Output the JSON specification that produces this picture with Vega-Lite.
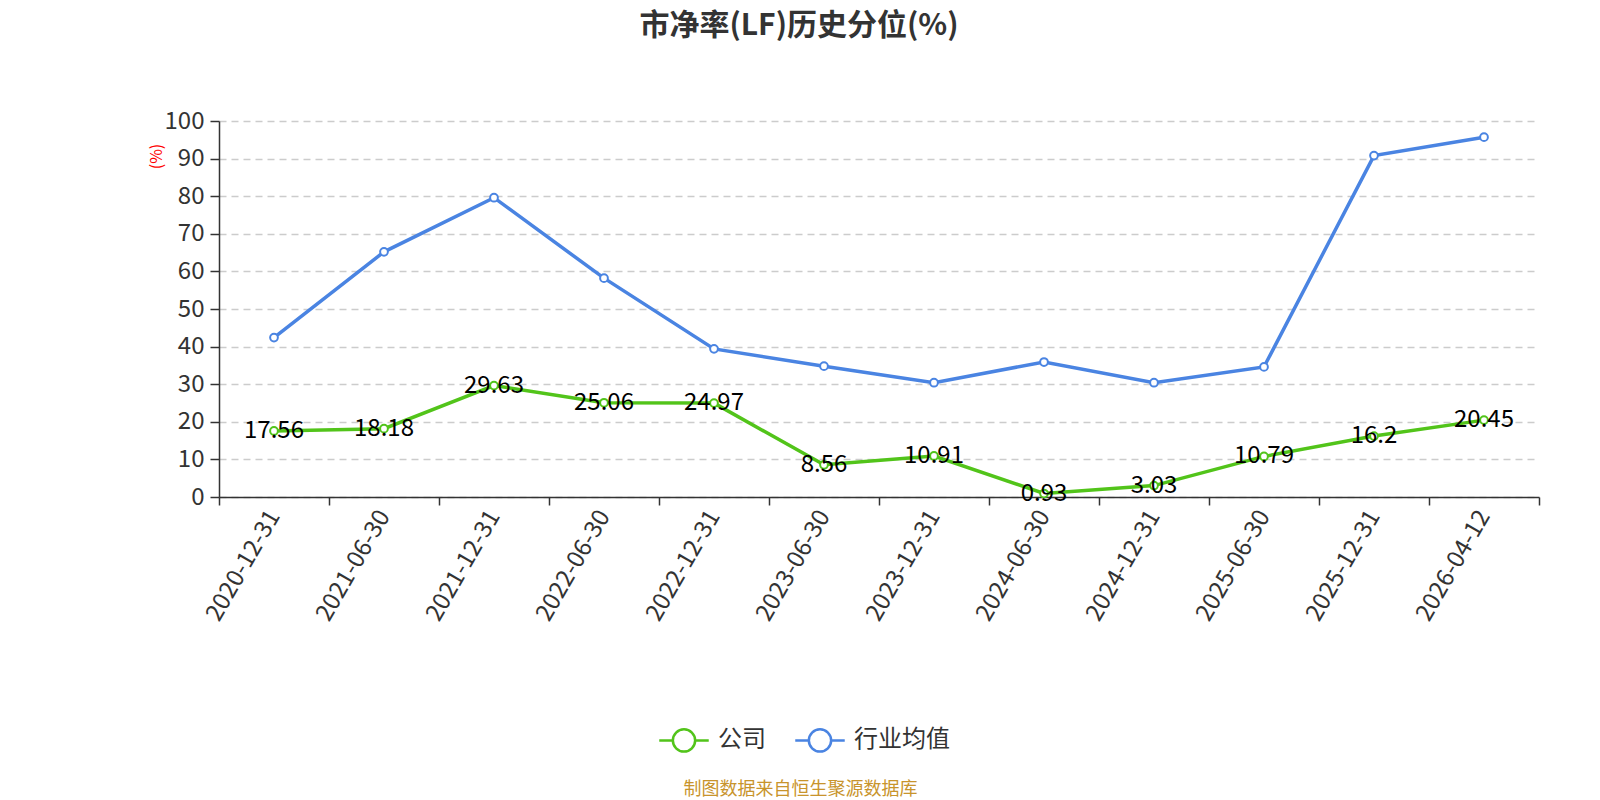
{
  "$schema": "https://vega.github.io/schema/vega-lite/v6.json",
  "width": 1320,
  "height": 376,
  "autosize": {"type": "none"},
  "padding": {"left": 219, "top": 121, "right": 61, "bottom": 303},
  "background": "white",
  "config": {
    "font": "Noto Sans CJK SC",
    "view": {"stroke": null}
  },
  "title": {
    "text": "市净率(LF)历史分位(%)",
    "fontSize": 30,
    "fontWeight": "bold",
    "color": "#333333",
    "anchor": "middle",
    "frame": "group",
    "dx": -80,
    "offset": 68
  },
  "data": {
    "values": [
      {"date": "2020-12-31", "series": "公司", "value": 17.56},
      {"date": "2021-06-30", "series": "公司", "value": 18.18},
      {"date": "2021-12-31", "series": "公司", "value": 29.63},
      {"date": "2022-06-30", "series": "公司", "value": 25.06},
      {"date": "2022-12-31", "series": "公司", "value": 24.97},
      {"date": "2023-06-30", "series": "公司", "value": 8.56},
      {"date": "2023-12-31", "series": "公司", "value": 10.91},
      {"date": "2024-06-30", "series": "公司", "value": 0.93},
      {"date": "2024-12-31", "series": "公司", "value": 3.03},
      {"date": "2025-06-30", "series": "公司", "value": 10.79},
      {"date": "2025-12-31", "series": "公司", "value": 16.2},
      {"date": "2026-04-12", "series": "公司", "value": 20.45},
      {"date": "2020-12-31", "series": "行业均值", "value": 42.4},
      {"date": "2021-06-30", "series": "行业均值", "value": 65.2},
      {"date": "2021-12-31", "series": "行业均值", "value": 79.6},
      {"date": "2022-06-30", "series": "行业均值", "value": 58.2},
      {"date": "2022-12-31", "series": "行业均值", "value": 39.4},
      {"date": "2023-06-30", "series": "行业均值", "value": 34.8},
      {"date": "2023-12-31", "series": "行业均值", "value": 30.4},
      {"date": "2024-06-30", "series": "行业均值", "value": 35.9},
      {"date": "2024-12-31", "series": "行业均值", "value": 30.4},
      {"date": "2025-06-30", "series": "行业均值", "value": 34.6},
      {"date": "2025-12-31", "series": "行业均值", "value": 90.8},
      {"date": "2026-04-12", "series": "行业均值", "value": 95.7}
    ]
  },
  "encoding": {
    "x": {
      "field": "date",
      "type": "ordinal",
      "sort": null,
      "scale": {"paddingInner": 0, "paddingOuter": 0},
      "axis": {
        "title": "制图数据来自恒生聚源数据库",
        "titleFont": "Noto Sans CJK SC",
        "titleFontSize": 18,
        "titleFontWeight": "normal",
        "titleColor": "#c8942c",
        "titleX": 581,
        "titleY": 292,
        "titleBaseline": "middle",
        "titleAnchor": null,
        "labelAngle": -60,
        "labelFontSize": 24,
        "labelColor": "#333333",
        "labelPadding": 7,
        "tickBand": "extent",
        "tickSize": 8,
        "tickWidth": 1.5,
        "tickColor": "#333333",
        "domainColor": "#333333",
        "domainWidth": 1.5,
        "grid": false
      }
    },
    "y": {
      "field": "value",
      "type": "quantitative",
      "scale": {"domain": [0, 100], "nice": false},
      "axis": {
        "title": "(%)",
        "titleColor": "red",
        "titleFontSize": 16,
        "titleFontWeight": "normal",
        "titleAngle": -90,
        "titleX": -63,
        "titleY": 35,
        "titleAlign": "center",
        "titleBaseline": "middle",
        "values": [0, 10, 20, 30, 40, 50, 60, 70, 80, 90, 100],
        "labelFontSize": 24,
        "labelColor": "#333333",
        "labelPadding": 6,
        "tickSize": 9,
        "tickWidth": 1.5,
        "tickColor": "#333333",
        "domainColor": "#333333",
        "domainWidth": 1.5,
        "grid": true,
        "gridColor": "#cccccc",
        "gridDash": [7, 5],
        "gridWidth": 1.5
      }
    },
    "color": {
      "field": "series",
      "type": "nominal",
      "scale": {"domain": ["公司", "行业均值"], "range": ["#52c41a", "#4a84e2"]},
      "legend": {
        "title": null,
        "orient": "none",
        "direction": "horizontal",
        "legendX": 439,
        "legendY": 593,
        "symbolType": "M-1,0L-0.45,0M0.45,0L1,0M-0.45,0A0.45,0.45,0,1,1,0.45,0A0.45,0.45,0,1,1,-0.45,0Z",
        "symbolSize": 2450,
        "symbolStrokeWidth": 2.5,
        "symbolFillColor": "white",
        "labelFontSize": 24,
        "labelColor": "#333333",
        "labelOffset": 8,
        "columnPadding": 24
      }
    }
  },
  "layer": [
    {
      "mark": {"type": "line", "strokeWidth": 3.5}
    },
    {
      "mark": {
        "type": "point",
        "filled": false,
        "fill": "white",
        "fillOpacity": 1,
        "opacity": 1,
        "size": 60,
        "strokeWidth": 2
      }
    },
    {
      "transform": [{"filter": "datum.series === '公司'"}],
      "mark": {
        "type": "text",
        "fontSize": 24,
        "color": "black",
        "baseline": "middle",
        "dy": 0
      },
      "encoding": {
        "text": {"field": "value", "type": "quantitative"},
        "color": {"value": "black"}
      }
    }
  ]
}
